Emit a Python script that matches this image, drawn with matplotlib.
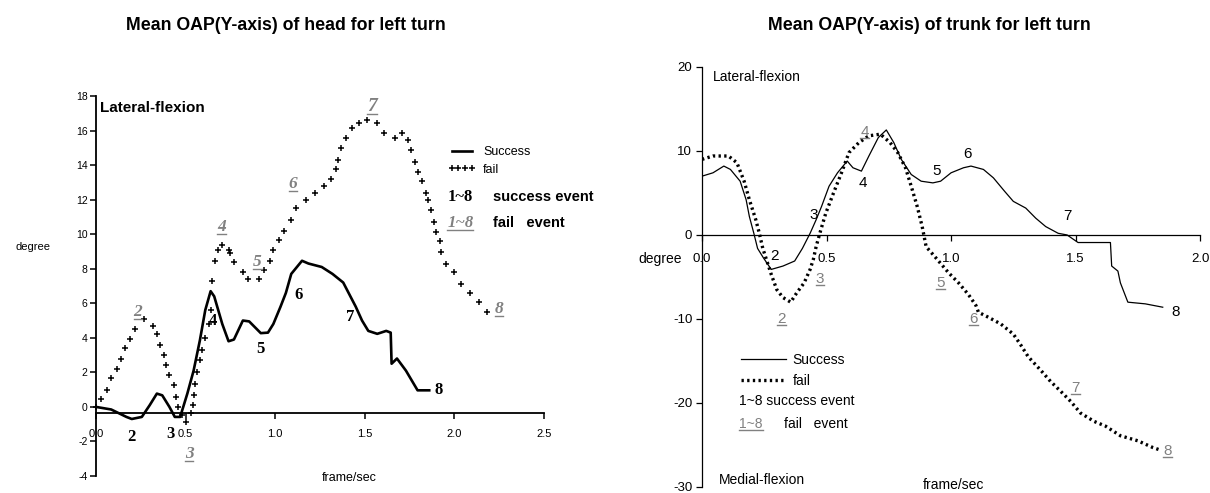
import matplotlib
matplotlib.use('Agg')
import matplotlib.pyplot as plt
from matplotlib.lines import Line2D
from matplotlib.transforms import IdentityTransform

# ---- data ----
# head (left chart)
head_success_t = [0, 0.085, 0.17, 0.2, 0.256, 0.3, 0.34, 0.37, 0.41, 0.44,
                  0.47, 0.51, 0.545, 0.58, 0.61, 0.64, 0.66, 0.705, 0.74, 0.77,
                  0.82, 0.855, 0.92, 0.96, 0.99, 1.03, 1.06, 1.09, 1.15, 1.186,
                  1.26, 1.32, 1.38, 1.41, 1.45, 1.485, 1.52, 1.57, 1.62, 1.645,
                  1.65, 1.68, 1.73, 1.795, 1.86]
head_success_v = [0, -0.15, -0.58, -0.7, -0.58, 0.1, 0.77, 0.67, 0, -0.58,
                  -0.58, 0.77, 2.1, 3.85, 5.6, 6.7, 6.4, 4.8, 3.8, 3.9,
                  5.0, 4.95, 4.27, 4.3, 4.8, 5.8, 6.6, 7.7, 8.46, 8.3,
                  8.1, 7.7, 7.2, 6.6, 5.8, 5.0, 4.4, 4.23, 4.4, 4.3,
                  2.5, 2.8, 2.1, 0.96, 0.96]

head_fail_t = [0.0, 0.03, 0.064, 0.085, 0.12, 0.14, 0.16, 0.19, 0.22, 0.27,
               0.316, 0.34, 0.36, 0.38, 0.39, 0.41, 0.434, 0.444, 0.46, 0.48,
               0.5, 0.53, 0.54, 0.545, 0.555, 0.566, 0.58, 0.59, 0.61, 0.63,
               0.64, 0.65, 0.665, 0.68, 0.705, 0.74, 0.75, 0.77, 0.82, 0.85,
               0.91, 0.94, 0.97, 0.99, 1.02, 1.05, 1.09, 1.115, 1.175, 1.22,
               1.27, 1.31, 1.34, 1.35, 1.37, 1.395, 1.43, 1.47, 1.515, 1.57,
               1.61, 1.67, 1.71, 1.74, 1.76, 1.78, 1.8, 1.82, 1.84, 1.855,
               1.87, 1.885, 1.9, 1.92, 1.925, 1.955, 2.0, 2.04, 2.09, 2.14,
               2.18]
head_fail_v = [0.0, 0.48, 1.0, 1.67, 2.2, 2.8, 3.4, 3.94, 4.5, 5.1,
               4.7, 4.2, 3.56, 2.98, 2.4, 1.83, 1.25, 0.58, 0.0, -0.48,
               -0.9, -0.38, 0.1, 0.7, 1.35, 2.0, 2.7, 3.27, 4.0, 4.8,
               5.6, 7.3, 8.46, 9.1, 9.4, 9.1, 8.9, 8.37, 7.8, 7.4,
               7.4, 7.9, 8.46, 9.1, 9.65, 10.2, 10.8, 11.5, 11.95, 12.4,
               12.8, 13.2, 13.8, 14.3, 15.0, 15.56, 16.15, 16.44, 16.6, 16.44,
               15.85, 15.56, 15.85, 15.46, 14.9, 14.2, 13.6, 13.1, 12.4, 11.95,
               11.4, 10.7, 10.1, 9.6, 8.94, 8.3, 7.8, 7.1, 6.6, 6.06,
               5.48]

event_names = ['2', '3', '4', '5', '6', '7', '8']
head_ev_success_t = [0.2, 0.417, 0.65, 0.92, 1.13, 1.42, 1.91]
head_ev_success_v = [-1.73, -1.54, 5.0, 3.37, 6.5, 5.2, 0.96]
head_ev_fail_t = [0.235, 0.52, 0.7, 0.9, 1.1, 1.54, 2.25]
head_ev_fail_v = [5.48, -2.7, 10.4, 8.37, 12.9, 17.4, 5.67]

head_yticks = [18, 16, 14, 12, 10, 8, 6, 4, 2, 0, -2, -4]
head_xticks = [0.0, 0.5, 1.0, 1.5, 2.0, 2.5]
head_xlabels = ['0.0', '0.5', '1.0', '1.5', '2.0', '2.5']

# trunk (right chart)
trunk_success_t = [0, 0.044, 0.0875, 0.114, 0.153, 0.177, 0.19, 0.208, 0.223, 0.247,
                   0.278, 0.325, 0.372, 0.403, 0.434, 0.458, 0.48, 0.51, 0.544, 0.583,
                   0.606, 0.64, 0.67, 0.708, 0.74, 0.77, 0.8, 0.84, 0.88, 0.927,
                   0.958, 1.0, 1.05, 1.08, 1.13, 1.17, 1.215, 1.25, 1.3, 1.34,
                   1.38, 1.43, 1.466, 1.51, 1.64, 1.645, 1.67, 1.68, 1.71, 1.78,
                   1.85]
trunk_success_v = [7.0, 7.4, 8.2, 7.8, 6.4, 4.2, 2.2, 0.2, -1.6, -2.75,
                   -4.1, -3.7, -3.1, -1.6, 0.2, 1.8, 3.4, 5.8, 7.4, 8.8,
                   8.0, 7.6, 9.4, 11.6, 12.5, 11.0, 9.0, 7.2, 6.4, 6.2,
                   6.4, 7.4, 8.0, 8.2, 7.8, 6.8, 5.2, 4.0, 3.2, 2.0,
                   1.0, 0.2, 0.0, -0.9, -0.9, -3.7, -4.3, -5.7, -8.0, -8.2,
                   -8.6]

trunk_fail_t = [0, 0.044, 0.106, 0.14, 0.169, 0.19, 0.216, 0.23, 0.244, 0.278,
                0.3, 0.325, 0.356, 0.38, 0.41, 0.434, 0.447, 0.458, 0.473, 0.497,
                0.528, 0.56, 0.59, 0.63, 0.67, 0.716, 0.755, 0.786, 0.817, 0.84,
                0.864, 0.884, 0.9, 0.934, 0.99, 1.03, 1.07, 1.1, 1.11, 1.15,
                1.2, 1.25, 1.28, 1.31, 1.36, 1.4, 1.44, 1.48, 1.52, 1.575,
                1.62, 1.68, 1.75, 1.81, 1.84]
trunk_fail_v = [9.0, 9.4, 9.4, 8.6, 6.4, 4.2, 1.8, 0.2, -1.6, -4.7,
                -6.5, -7.45, -8.0, -6.9, -5.7, -4.1, -2.9, -1.4, 0.2, 2.6,
                5.0, 7.4, 9.8, 11.0, 11.8, 12.0, 11.0, 9.8, 8.0, 5.8,
                3.4, 1.0, -1.4, -2.55, -4.5, -5.7, -7.1, -8.4, -9.2, -9.8,
                -10.6, -11.8, -13.1, -14.5, -16.1, -17.45, -18.6, -19.8, -21.2, -22.2,
                -22.75, -23.9, -24.5, -25.3, -25.6]

trunk_ev_success_t = [0.29, 0.45, 0.645, 0.94, 1.067, 1.466, 1.9]
trunk_ev_success_v = [-2.5, 2.4, 6.2, 7.6, 9.6, 2.3, -9.2]
trunk_ev_fail_t = [0.32, 0.473, 0.653, 0.958, 1.09, 1.5, 1.87]
trunk_ev_fail_v = [-10.0, -5.3, 12.2, -5.7, -10.0, -18.2, -25.7]

trunk_yticks = [20, 10, 0, -10, -20, -30]
trunk_xticks = [0.0, 0.5, 1.0, 1.5, 2.0]
trunk_xlabels = ['0.0', '0.5', '1.0', '1.5', '2.0']

# ---- fonts ----
plt.rcParams['font.family'] = ['Liberation Sans', 'DejaVu Sans']
plt.rcParams['axes.unicode_minus'] = False

grey = '#808080'
underlined = []   # texts that get an underline after layout

fig = plt.figure(figsize=(12.1, 4.93), dpi=100)

# ---------------- left: head ----------------
ax = fig.add_axes([0.0793, 0.0345, 0.3702, 0.7708])
ax.set_xlim(0, 2.5)
ax.set_ylim(-4, 18)
ax.plot(head_success_t, head_success_v, color='black', lw=1.9, label='Success')
ax.plot(head_fail_t, head_fail_v, ls='none', marker='+', ms=4.5, mew=1.1,
        color='black', label='fail', clip_on=False)

for s in ['top', 'right']:
    ax.spines[s].set_visible(False)
ax.spines['bottom'].set_position(('data', -0.33))
ax.spines['left'].set_linewidth(1.3)
ax.spines['bottom'].set_linewidth(1.3)
ax.set_yticks(head_yticks)
ax.set_yticklabels([str(v) for v in head_yticks])
ax.set_xticks(head_xticks)
ax.set_xticklabels(head_xlabels)
ax.tick_params(axis='y', direction='out', length=4, width=1.1, pad=2, labelsize=7.5)
ax.tick_params(axis='x', direction='out', length=4, width=1.1, pad=8, labelsize=8)

for n, t, v in zip(event_names, head_ev_success_t, head_ev_success_v):
    ax.text(t, v, n, family='Liberation Serif', weight='bold', fontsize=12,
            ha='center', va='center')
for n, t, v in zip(event_names, head_ev_fail_t, head_ev_fail_v):
    underlined.append(ax.text(t, v, n, color=grey, family='Liberation Serif',
                              style='italic', weight='bold',
                              fontsize=14 if n == '7' else 12.5,
                              ha='center', va='center'))

ax.text(0.02, 17.3, 'Lateral-flexion', fontsize=11, weight='bold', va='center')
ax.text(-0.45, 9.26, 'degree', fontsize=8, va='center')
ax.text(1.415, -4.1, 'frame/sec', fontsize=9, ha='center', va='center')
fig.text(286 / 1210, 1 - 25 / 493, 'Mean OAP(Y-axis) of head for left turn',
         fontsize=12.8, weight='bold', ha='center', va='center')

ax.legend(loc='center left', bbox_to_anchor=(1.93, 14.25),
          bbox_transform=ax.transData, frameon=False, fontsize=9,
          numpoints=4, handlelength=2.2, handletextpad=0.6,
          labelspacing=0.45, borderpad=0)
ax.text(1.96, 12.18, '1~8', family='Liberation Serif', weight='bold', fontsize=12,
        va='center')
ax.text(2.215, 12.18, 'success event', weight='bold', fontsize=10.5, va='center')
underlined.append(ax.text(1.96, 10.67, '1~8', color=grey, family='Liberation Serif',
                          style='italic', weight='bold', fontsize=12, va='center'))
ax.text(2.215, 10.67, 'fail   event', weight='bold', fontsize=10.5, va='center')

# ---------------- right: trunk ----------------
ax2 = fig.add_axes([0.5802, 0.0122, 0.4116, 0.852])
ax2.set_xlim(0, 2.0)
ax2.set_ylim(-30, 20)
ax2.plot(trunk_success_t, trunk_success_v, color='black', lw=0.9, label='Success')
ax2.plot(trunk_fail_t, trunk_fail_v, color='black', lw=2.4,
         ls=(0, (0.7, 1.0)), label='fail')

for s in ['top', 'right']:
    ax2.spines[s].set_visible(False)
ax2.spines['bottom'].set_position(('data', 0))
ax2.spines['left'].set_linewidth(0.9)
ax2.spines['bottom'].set_linewidth(0.9)
ax2.set_yticks(trunk_yticks)
ax2.set_yticklabels([str(v) for v in trunk_yticks])
ax2.set_xticks(trunk_xticks)
ax2.set_xticklabels(trunk_xlabels)
ax2.tick_params(axis='both', direction='out', length=4, width=0.9, labelsize=9.5)
ax2.tick_params(axis='x', pad=9)
ax2.tick_params(axis='y', pad=3)

for n, t, v in zip(event_names, trunk_ev_success_t, trunk_ev_success_v):
    ax2.text(t, v, n, fontsize=11, ha='center', va='center')
for n, t, v in zip(event_names, trunk_ev_fail_t, trunk_ev_fail_v):
    underlined.append(ax2.text(t, v, n, color=grey, fontsize=11,
                               ha='center', va='center'))

ax2.text(0.044, 18.8, 'Lateral-flexion', fontsize=10, va='center')
ax2.text(0.067, -29.2, 'Medial-flexion', fontsize=10, va='center')
ax2.text(1.01, -29.8, 'frame/sec', fontsize=10, ha='center', va='center')
ax2.text(-0.08, -2.9, 'degree', fontsize=10, ha='right', va='center')
fig.text(929 / 1210, 1 - 25 / 493, 'Mean OAP(Y-axis) of trunk for left turn',
         fontsize=12.8, weight='bold', ha='center', va='center')

ax2.legend(loc='upper left', bbox_to_anchor=(0.13, -13.2),
           bbox_transform=ax2.transData, frameon=False, fontsize=10,
           handlelength=3.2, handletextpad=0.5, labelspacing=0.5, borderpad=0)
ax2.text(0.15, -19.8, '1~8 success event', fontsize=10, va='center')
underlined.append(ax2.text(0.15, -22.5, '1~8', color=grey, fontsize=10,
                           va='center'))
ax2.text(0.33, -22.5, 'fail   event', fontsize=10, va='center')

# underline the fail-event numbers (matplotlib has no underline style)
fig.canvas.draw()
for t in underlined:
    bb = t.get_window_extent()
    fig.add_artist(Line2D([bb.x0, bb.x1], [bb.y0 + 1, bb.y0 + 1], color=grey,
                          lw=1.0, transform=IdentityTransform()))

fig.savefig('out.png', dpi=100)
